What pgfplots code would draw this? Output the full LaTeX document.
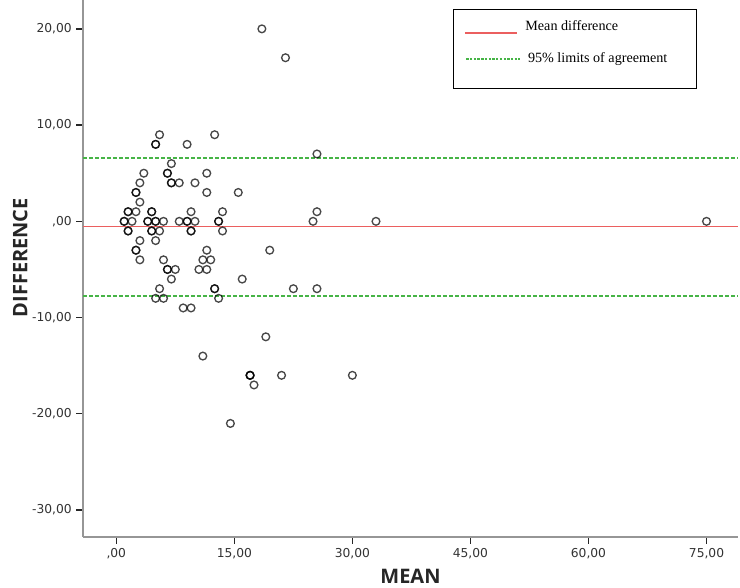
\documentclass[border=0pt]{standalone}
\usepackage{fontspec}
\setmainfont{DejaVu Sans}
\newfontfamily\labfont{Open Sans}
\newfontfamily\legfont{Liberation Serif}
\usepackage{pgfplots}
\pgfplotsset{compat=1.18}
\definecolor{meanred}{RGB}{235,95,95}
\definecolor{limgreen}{RGB}{70,180,70}
\definecolor{axgray}{RGB}{150,150,150}
\pgfplotstableread{
x y
1 0
1 0
2 0
1.5 1
1.5 1
2.5 1
1.5 -1
1.5 -1
2.5 3
2.5 3
3 4
3 2
3.5 5
3 -2
2.5 -3
2.5 -3
3 -4
4 0
4 0
5 0
5 0
6 0
4.5 1
4.5 1
4.5 -1
4.5 -1
5 -2
5.5 -1
5.5 9
5 8
5 8
6.5 5
6.5 5
7 6
7 4
7 4
8 4
6 -4
6.5 -5
6.5 -5
7.5 -5
7 -6
5.5 -7
5 -8
6 -8
8 0
9 0
9 0
10 0
9.5 1
9.5 -1
9.5 -1
9 8
10 4
8.5 -9
9.5 -9
11.5 5
11.5 3
12.5 9
13 0
13 0
13.5 1
13.5 -1
11.5 -3
11 -4
12 -4
10.5 -5
11.5 -5
12.5 -7
12.5 -7
13 -8
11 -14
14.5 -21
15.5 3
16 -6
17 -16
17 -16
17 -16
17.5 -17
19 -12
19.5 -3
18.5 20
21.5 17
21 -16
22.5 -7
25 0
25.5 1
25.5 7
25.5 -7
30 -16
33 0
75 0
}\pts
\begin{document}
\begin{tikzpicture}
\useasboundingbox (-62.25pt,-38.25pt) rectangle (492.75pt,402.75pt);
\begin{axis}[
  scale only axis, width=491.25pt, height=402.75pt,
  at={(0,0)}, anchor=south west,
  xmin=-4.23, xmax=79, ymin=-32.8, ymax=23,
  axis x line*=bottom, axis y line*=left,
  axis line style={axgray, line width=1.2pt},
  tick align=outside, major tick length=5pt,
  tick style={black!85, line width=1pt},
  xtick={0,15,30,45,60,75},
  xticklabels={{,00},{15,00},{30,00},{45,00},{60,00},{75,00}},
  ytick={-30,-20,-10,0,10,20},
  yticklabels={{-30,00},{-20,00},{-10,00},{,00},{10,00},{20,00}},
  ticklabel style={font=\fontsize{9.2}{10}\selectfont, text=black!80},
  xlabel={MEAN}, ylabel={DIFFERENCE},
  label style={font=\labfont\bfseries\fontsize{15}{17}\selectfont, text=black!85},
  x label style={at={(axis description cs:0.5,0)}, yshift=-29.5pt, anchor=center},
  y label style={at={(axis description cs:-0.0957,0.52)}, anchor=center},
]
\addplot[meanred, line width=1pt] coordinates {(-4.23,-0.55) (79,-0.55)};
\addplot[limgreen, line width=1.1pt, dash pattern=on 3pt off 1.5pt] coordinates {(-4.23,6.6) (79,6.6)};
\addplot[limgreen, line width=1.1pt, dash pattern=on 3pt off 1.5pt] coordinates {(-4.23,-7.75) (79,-7.75)};
\addplot[only marks, mark=o, mark size=2.9pt, mark options={draw=black, line width=1pt, draw opacity=0.72}] table {\pts};
\draw[draw=black, line width=0.6pt] (rel axis cs:0.565,0.836) rectangle (rel axis cs:0.937,0.983);
\draw[draw=meanred, line width=0.9pt] (rel axis cs:0.583,0.9385) -- (rel axis cs:0.663,0.9385);
\draw[draw=limgreen, line width=0.9pt, dash pattern=on 1.8pt off 1pt] (rel axis cs:0.585,0.890) -- (rel axis cs:0.667,0.890);
\node[anchor=west, font=\legfont\fontsize{10.6}{12}\selectfont, inner sep=0pt] at (rel axis cs:0.675,0.9516) {Mean difference};
\node[anchor=west, font=\legfont\fontsize{10.6}{12}\selectfont, inner sep=0pt] at (rel axis cs:0.679,0.890) {95\% limits of agreement};
\end{axis}
\end{tikzpicture}
\end{document}
